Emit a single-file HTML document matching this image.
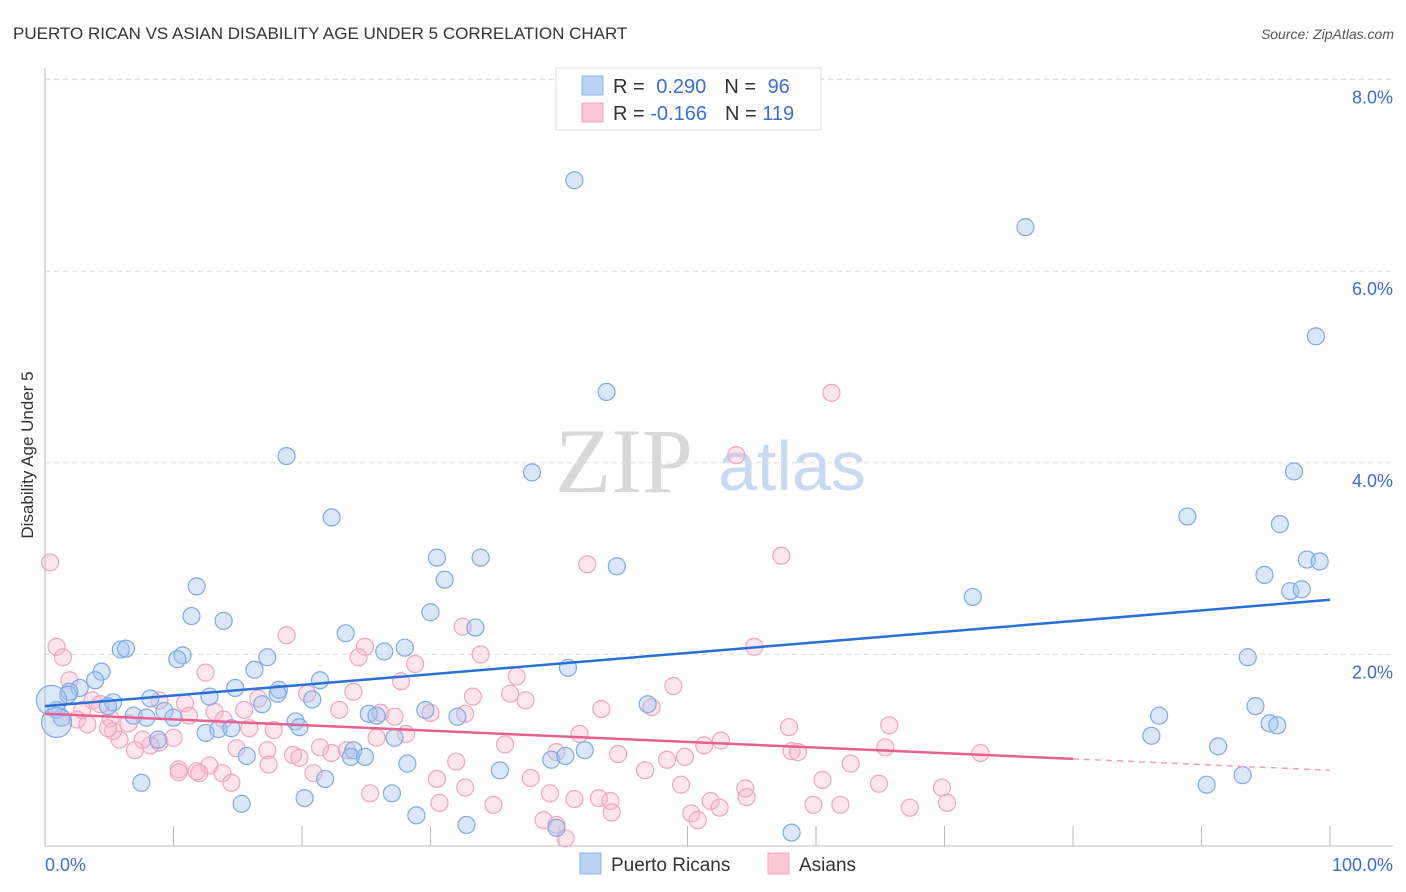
<!DOCTYPE html>
<html><head><meta charset="utf-8"><style>
body{margin:0;background:#fff;font-family:"Liberation Sans",sans-serif;}
svg{display:block}
</style></head><body>
<svg id="chart" width="1406" height="892">
<text x="13" y="39" font-size="17" fill="#333">PUERTO RICAN VS ASIAN DISABILITY AGE UNDER 5 CORRELATION CHART</text>
<text x="1394" y="39" font-size="14" fill="#555" font-style="italic" text-anchor="end">Source: ZipAtlas.com</text>
<text x="33" y="455" font-size="17" fill="#333" text-anchor="middle" transform="rotate(-90 33 455)">Disability Age Under 5</text>
<g>
<text x="555" y="492" font-size="92" fill="#d8d8d8" font-family="Liberation Serif,serif">ZIP</text>
<text x="718" y="490" font-size="70" fill="#c8daf2">atlas</text>
</g>
<g id="grid"></g><g id="pts"></g><g id="trends"></g>
<g>
<rect x="556" y="68" width="265" height="62" fill="#fff" stroke="#ddd"/>
<rect x="582" y="76" width="21" height="19" fill="#b8d2f4" stroke="#8fb4e6"/>
<rect x="582" y="103" width="21" height="19" fill="#fbc6d6" stroke="#f2a6bf"/>
<text x="613" y="93" font-size="20" fill="#333">R = <tspan fill="#3a6fd0" dx="6">0.290</tspan><tspan dx="18">N = </tspan><tspan fill="#3a6fd0" dx="6">96</tspan></text>
<text x="613" y="120" font-size="20" fill="#333">R = <tspan fill="#3a6fd0">-0.166</tspan><tspan dx="18">N = </tspan><tspan fill="#3a6fd0">119</tspan></text>
</g>
<g>
<rect x="580" y="853" width="21" height="21" fill="#b8d2f4" stroke="#8fb4e6"/>
<text x="611" y="871" font-size="19" fill="#333">Puerto Ricans</text>
<rect x="768" y="853" width="21" height="21" fill="#fbc6d6" stroke="#f2a6bf"/>
<text x="799" y="871" font-size="19" fill="#333">Asians</text>
</g>
<text x="45" y="871" font-size="18" fill="#3a6fd0">0.0%</text>
<text x="1393" y="871" font-size="18" fill="#3a6fd0" text-anchor="end">100.0%</text>
</svg>
<script>
const yTicks=[2,4,6,8];
const yTickLabels=["2.0%","4.0%","6.0%","8.0%"];
const xTicks=[0,10,20,30,40,50,60,70,80,90,100];
const prX=[41.2,76.3,98.9,43.7,18.8,37.9,97.2,22.3,88.9,96.1,30.5,33.9,44.5,98.2,99.2,31.1,94.9,96.9,97.8,11.8,72.2,30.0,11.4,13.9,33.5,23.4,5.9,6.3,28.0,26.4,10.7,10.3,17.3,93.6,16.3,4.4,40.7,3.9,21.4,2.7,14.8,1.9,1.8,18.2,18.1,12.8,8.2,5.3,4.9,16.9,20.8,29.6,9.3,94.2,46.9,25.2,25.8,32.1,19.5,86.7,95.3,95.9,6.9,7.9,10.0,12.5,13.5,14.5,86.1,19.8,27.2,24.0,23.8,8.8,15.7,24.9,39.4,40.5,42.0,91.3,28.2,35.4,21.8,93.2,7.5,27.0,90.4,20.2,15.3,28.9,32.8,39.8,58.1,0.9,1.3,0.5,0.9];
const prY=[6.95,6.46,5.32,4.74,4.07,3.90,3.91,3.43,3.44,3.36,3.01,3.01,2.92,2.99,2.97,2.78,2.83,2.66,2.68,2.71,2.60,2.44,2.40,2.35,2.28,2.22,2.05,2.06,2.07,2.03,1.99,1.95,1.97,1.97,1.84,1.82,1.86,1.73,1.73,1.65,1.65,1.61,1.58,1.63,1.59,1.56,1.54,1.50,1.46,1.48,1.53,1.42,1.41,1.46,1.48,1.38,1.36,1.35,1.30,1.36,1.28,1.26,1.36,1.34,1.34,1.18,1.22,1.23,1.15,1.24,1.13,1.00,0.93,1.11,0.94,0.93,0.90,0.94,1.00,1.04,0.86,0.79,0.70,0.74,0.66,0.55,0.64,0.50,0.44,0.32,0.22,0.19,0.14,1.42,1.34,1.52,1.29];
const prBig=[93,94,95,96];
const asX=[0.4,0.9,1.4,61.2,53.8,57.3,42.2,18.8,32.5,24.9,33.9,24.4,28.8,55.2,12.5,36.7,27.7,48.9,1.9,3.7,2.9,4.3,33.3,36.2,37.4,24.0,20.4,16.6,10.9,8.9,43.3,47.2,13.2,11.2,5.1,15.5,22.9,26.1,27.2,30.0,32.7,13.9,6.5,5.8,2.5,3.3,5.3,17.8,15.9,28.1,41.6,57.9,65.7,8.9,8.2,10.0,7.6,7.0,14.9,17.3,21.4,22.3,23.5,25.8,35.8,52.6,51.3,58.1,58.6,65.4,72.8,39.8,44.6,19.3,19.8,17.4,12.8,10.4,32.0,48.4,62.7,10.4,11.8,20.9,46.7,49.8,60.5,49.5,30.5,37.8,64.9,69.8,54.5,12.0,13.8,14.5,25.3,32.7,39.3,54.6,51.8,59.8,61.9,70.2,67.3,41.2,43.1,44.0,34.9,30.7,44.1,50.3,50.8,52.5,38.8,39.8,40.5,4.9];
const asY=[2.96,2.08,1.97,4.73,4.08,3.03,2.94,2.20,2.29,2.08,2.00,1.97,1.90,2.08,1.81,1.77,1.72,1.67,1.73,1.52,1.42,1.48,1.56,1.59,1.52,1.61,1.59,1.54,1.49,1.52,1.43,1.45,1.40,1.36,1.33,1.42,1.42,1.39,1.35,1.39,1.38,1.32,1.28,1.11,1.32,1.27,1.20,1.21,1.23,1.17,1.17,1.24,1.26,1.08,1.05,1.13,1.11,1.00,1.02,1.00,1.03,0.97,1.00,1.13,1.06,1.10,1.05,0.99,0.98,1.03,0.97,0.98,0.96,0.95,0.92,0.85,0.84,0.80,0.88,0.90,0.86,0.77,0.78,0.76,0.79,0.93,0.69,0.64,0.70,0.71,0.65,0.61,0.60,0.76,0.76,0.66,0.55,0.61,0.55,0.51,0.47,0.43,0.43,0.45,0.40,0.49,0.50,0.47,0.43,0.45,0.35,0.34,0.27,0.40,0.27,0.22,0.08,1.23];
const prTrend=[1.46,2.57];
const asTrend=[1.38,0.91,0.79];
const asTrendSolidEnd=80;

const NS="http://www.w3.org/2000/svg";
const sx=v=>45+v*12.85, sy=v=>846-v*95.8;
function mk(p,t,a){const e=document.createElementNS(NS,t);for(const k in a)e.setAttribute(k,a[k]);p.appendChild(e);return e;}
const grid=document.getElementById('grid');
yTicks.forEach((t,i)=>{
 const l=mk(grid,'line',{x1:45,x2:1393,y1:sy(t),y2:sy(t),stroke:'#ddd','stroke-dasharray':'5,4'});
 
 
 const tx=mk(grid,'text',{x:1393,y:sy(t)+24,'font-size':18,fill:'#3a6fd0','text-anchor':'end'});
 tx.textContent=yTickLabels[i];
 
 
});
const topg=mk(grid,'line',{x1:45,x2:1393,y1:79,y2:79,stroke:'#ddd','stroke-dasharray':'5,4'});


const ya=mk(grid,'line',{x1:45,x2:45,y1:68,y2:846,stroke:'#bbb'});


const xa=mk(grid,'line',{x1:45,x2:1393,y1:846,y2:846,stroke:'#bbb'});


xTicks.forEach(t=>{
 const l=mk(grid,'line',{x1:sx(t),x2:sx(t),y1:826,y2:846,stroke:'#bbb'});
 
 
});
const pts=document.getElementById('pts');
asX.forEach((x,i)=>{
 const c=mk(pts,'circle',{cx:sx(x),cy:sy(asY[i]),r:8.5,fill:'rgba(248,180,204,0.35)',stroke:'#f0a4be','stroke-width':1.2});
 
 
});
prX.forEach((x,i)=>{
 const r=prBig.includes(i)?(i>=95?15:8.5):8.5;
 const c=mk(pts,'circle',{cx:sx(x),cy:sy(prY[i]),r:r,fill:'rgba(160,196,240,0.4)',stroke:'#7fa9e2','stroke-width':1.2});
 
 
});
const tr=document.getElementById('trends');
const bl=mk(tr,'line',{x1:sx(0),y1:sy(prTrend[0]),x2:sx(100),y2:sy(prTrend[1]),stroke:'#2a6fd6','stroke-width':2.5});


const pl=mk(tr,'line',{x1:sx(0),y1:sy(asTrend[0]),x2:sx(asTrendSolidEnd),y2:sy(asTrend[1]),stroke:'#e8608f','stroke-width':2.5});


const pd=mk(tr,'line',{x1:sx(asTrendSolidEnd),y1:sy(asTrend[1]),x2:sx(100),y2:sy(asTrend[2]),stroke:'#f0a0bc','stroke-width':1.5,'stroke-dasharray':'6,5'});


</script>
</body></html>
